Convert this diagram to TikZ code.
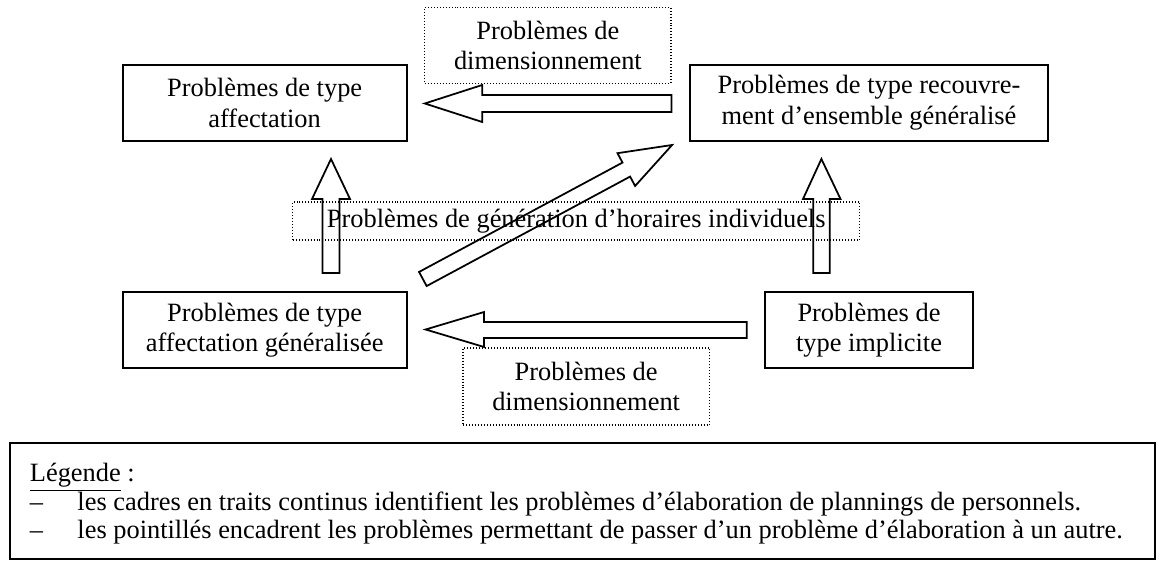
\documentclass[tikz,border=0pt]{standalone}
\usepackage{fontspec}
\setmainfont{Liberation Serif}
\begin{document}
\begin{tikzpicture}[x=0.4545pt,y=-0.4545pt,
  txt/.style={font=\fontsize{12}{13.8}\selectfont},
  solidbox/.style={txt,draw,line width=0.9pt,inner sep=0pt,align=center},
  dotbox/.style={txt,draw,dash pattern=on 0.45pt off 0.9pt,line width=0.55pt,inner sep=0pt,align=center},
  blockarrow/.style={draw,line width=0.8pt,line join=miter}]
\useasboundingbox (0,0) rectangle (1164,562);
% solid boxes
\node[solidbox,minimum width=129.2pt,minimum height=34.4pt] (A) at (264.65,102.85) {Problèmes de type\\affectation};
\node[solidbox,minimum width=162.7pt,minimum height=34.4pt] (B) at (869.05,102.85) {Problèmes de type recouvre-\\ment d’ensemble généralisé};
\node[solidbox,minimum width=129.2pt,minimum height=34.5pt] (C) at (264.65,330) {Problèmes de type\\affectation généralisée};
\node[solidbox,minimum width=94.1pt,minimum height=34.5pt] (D) at (869,330) {Problèmes de\\type implicite};
% dotted boxes
\node[dotbox,minimum width=111.9pt,minimum height=34.5pt] (T) at (547.9,45.3) {Problèmes de\\dimensionnement};
\node[dotbox,minimum width=257.7pt,minimum height=17.3pt] (M) at (576.25,221) {Problèmes de génération d’horaires individuels};
\node[dotbox,minimum width=111.9pt,minimum height=35pt] (Bt) at (586.15,386.5) {Problèmes de\\dimensionnement};
% block arrows
\draw[blockarrow] (T.south east |- 0,95) -- (482.2,95) -- (482.2,85) -- (424.8,103.5)
  -- (482.2,122) -- (482.2,112) -- (T.south east |- 0,112) -- cycle;
\draw[blockarrow] (746.8,322) -- (484.1,322) -- (484.1,312) -- (425.6,329.5)
  -- (484.1,347) -- (484.1,338) -- (746.8,338) -- cycle;
\draw[blockarrow] (322.6,273) -- (322.6,199) -- (312,199) -- (331,159)
  -- (350,199) -- (339.5,199) -- (339.5,273) -- cycle;
\draw[blockarrow] (813.3,273) -- (813.3,199) -- (803,199) -- (821.4,159)
  -- (840.5,199) -- (829.8,199) -- (829.8,273) -- cycle;
\draw[blockarrow] (419.06,271.95) -- (622.5,162.6) -- (617.5,153.2) -- (672.1,145)
  -- (635.1,186.0) -- (630.1,176.6) -- (426.64,286.05) -- cycle;
% legend
\node[draw,line width=0.9pt,minimum width=520.6pt,minimum height=52.6pt,inner sep=0pt] (L) at (582.3,501.15) {};
\node[txt,anchor=base west,inner sep=0pt] (L0) at (29.5,481.5) {\underline{Légende} :};
\node[txt,anchor=base west,inner sep=0pt] (d1) at (29.5,510.5) {–};
\node[txt,anchor=base west,inner sep=0pt] (l1) at (77,510.5) {les cadres en traits continus identifient les problèmes d’élaboration de plannings de personnels.};
\node[txt,anchor=base west,inner sep=0pt] (d2) at (29.5,538.5) {–};
\node[txt,anchor=base west,inner sep=0pt] (l2) at (77,538.5) {les pointillés encadrent les problèmes permettant de passer d’un problème d’élaboration à un autre.};
\end{tikzpicture}
\end{document}
